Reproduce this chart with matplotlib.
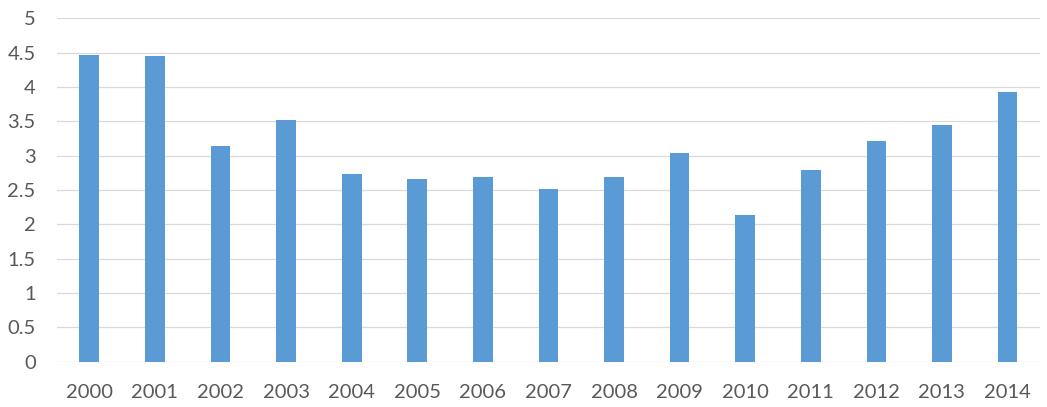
import matplotlib
matplotlib.use("Agg")
import matplotlib.pyplot as plt

years = ["2000", "2001", "2002", "2003", "2004", "2005", "2006", "2007",
         "2008", "2009", "2010", "2011", "2012", "2013", "2014"]
values = [4.46, 4.45, 3.14, 3.52, 2.73, 2.66, 2.69, 2.51,
          2.69, 3.04, 2.13, 2.79, 3.21, 3.44, 3.92]
yticks = [0, 0.5, 1, 1.5, 2, 2.5, 3, 3.5, 4, 4.5, 5]
ytick_labels = ["0", "0.5", "1", "1.5", "2", "2.5", "3", "3.5", "4", "4.5", "5"]

plt.rcParams['font.family'] = ['Lato', 'DejaVu Sans']

fig = plt.figure(figsize=(10.47, 4.07), dpi=100)
ax = fig.add_axes([0.054, 0.1113, 0.9396, 0.8437])

x = list(range(len(years)))
ax.bar(x, values, width=0.30, color="#5B9BD5", zorder=3)

ax.set_xlim(-0.5, len(years) - 0.5)
ax.set_ylim(0, 5)
ax.set_yticks(yticks)
ax.set_yticklabels(ytick_labels)
ax.set_xticks(x)
ax.set_xticklabels(years)

ax.grid(axis="y", color="#D9D9D9", linewidth=0.9, zorder=0)
for s in ax.spines.values():
    s.set_visible(False)

ax.tick_params(axis="both", length=0, labelsize=14.5, labelcolor="#595959")
ax.tick_params(axis="y", pad=15)
ax.tick_params(axis="x", pad=16)

fig.savefig("out.png", dpi=100, facecolor="white")
